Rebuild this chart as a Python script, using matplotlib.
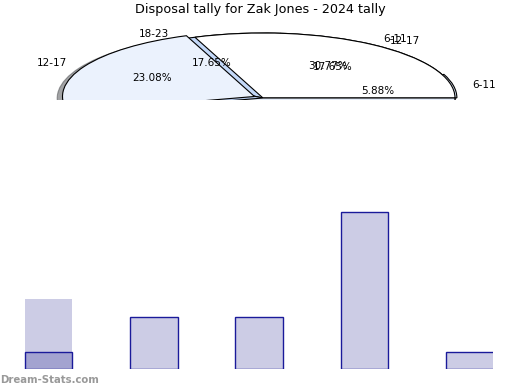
import matplotlib.pyplot as plt

# bar categories and the two tally series
categories = ['6-11', '12-17', '18-23', '24-29', '30+']
tally_b = [1, 3, 3, 9, 1]
tally_a_first = [4]

pie_a_labels = ['6-11', '12-17', '18-23']
pie_a_values = [4, 3, 6]
pie_b_labels = ['6-11', '12-17', '18-23', '24-29', '30+']
pie_b_values = [1, 3, 3, 9, 1]

fig = plt.figure(figsize=(5.2, 3.9), dpi=100)
fig.text(0.5, 1 - 10 / 390, 'Disposal tally for Zak Jones - 2024 tally',
         ha='center', va='center', fontsize=9.2)

# half-visible pie on top
rx, ry = 192, 65
cx, cy = 263, 98
x0, x1, y0, y1 = -1.3, 1.3, -0.03, 1.15
ax1 = fig.add_axes([(cx + x0 * rx) / 520, (390 - (cy - y0 * ry)) / 390,
                    (x1 - x0) * rx / 520, (y1 - y0) * ry / 390])

wp = dict(edgecolor='black', linewidth=0.8)
pb = ax1.pie(pie_b_values, labels=pie_b_labels, autopct='%.2f%%',
             startangle=0, explode=[0.01, 0, 0, 0, 0], shadow=True,
             colors=['#d6e2f4', '#c9dcf7', '#c3d8f8', '#b8cdee', '#d0dff5'],
             wedgeprops=wp, textprops=dict(fontsize=7.5))
pa = ax1.pie(pie_a_values, labels=pie_a_labels, autopct='%.2f%%',
             startangle=0, explode=[0, 0.05, 0], shadow=True,
             colors=['#ffffff', '#ebf2fd', '#e4ecf8'],
             wedgeprops=wp, textprops=dict(fontsize=7.5))
for p in ax1.patches:
    p.set_clip_on(True)
for t in pb[1] + pb[2] + pa[1] + pa[2]:
    t.set_clip_on(True)
ax1.set_aspect('auto')
ax1.set_xlim(x0, x1)
ax1.set_ylim(y0, y1)
ax1.axis('off')

# bars below
ax2 = fig.add_axes([0, (390 - 369) / 390, 493 / 520, 175 / 390])
xs = list(range(len(categories)))
ax2.bar(xs[:1], tally_a_first, width=0.45, color=(0, 0, 0.5, 0.2), linewidth=0)
ax2.bar(xs, tally_b, width=0.45, color=(0, 0, 0.5, 0.2),
        edgecolor='#1a1a9a', linewidth=1)
ax2.set_xlim(-0.46, 4.22)
ax2.set_ylim(0, 10)
ax2.axis('off')

fig.text(0.0, (390 - 380) / 390, 'Dream-Stats.com', color='#999999',
         fontsize=7.3, fontweight='bold', ha='left', va='center')

fig.savefig('out.png', dpi=100)
